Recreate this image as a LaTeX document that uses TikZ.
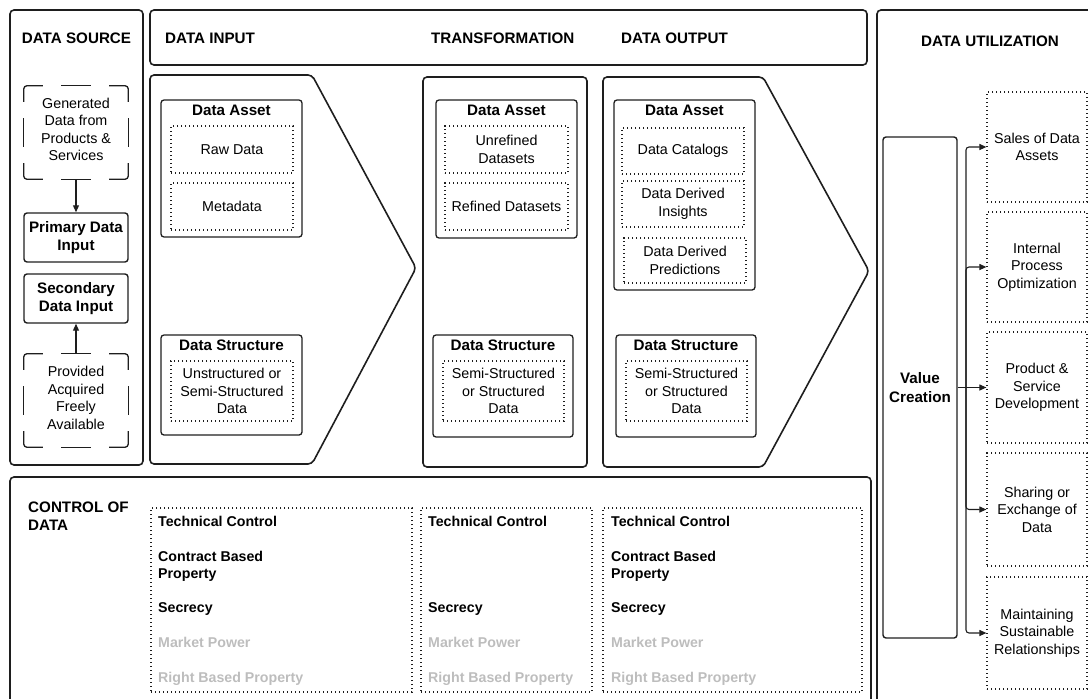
\documentclass[tikz,border=0pt]{standalone}
\usepackage{fontspec}
\setmainfont{Liberation Sans}
\usetikzlibrary{arrows.meta,calc}
\definecolor{ink}{HTML}{1E1E1E}
\definecolor{faded}{HTML}{BDBDBD}

% long-dash frame: rounded corner pieces plus one centred dash per side
\newcommand\srcframe[1]{%
  \draw[ink,line width=1.3pt,rounded corners=3pt]
    ($(#1.north west)+(0,16)$) -- (#1.north west) -- ($(#1.north west)+(19,0)$)
    ($(#1.north east)+(-19,0)$) -- (#1.north east) -- ($(#1.north east)+(0,16)$)
    ($(#1.south east)+(0,-16)$) -- (#1.south east) -- ($(#1.south east)+(-19,0)$)
    ($(#1.south west)+(19,0)$) -- (#1.south west) -- ($(#1.south west)+(0,-16)$);
  \draw[ink,line width=1.3pt]
    ($(#1.north)+(-15,0)$) -- ($(#1.north)+(15,0)$)
    ($(#1.south)+(-15,0)$) -- ($(#1.south)+(15,0)$)
    ($(#1.west)+(0,-14.5)$) -- ($(#1.west)+(0,14.5)$)
    ($(#1.east)+(0,-14.5)$) -- ($(#1.east)+(0,14.5)$);}

\tikzset{
  panel/.style={draw=ink, line width=1.6pt, rounded corners=4pt},
  group/.style={draw=ink, line width=1.3pt, rounded corners=3pt},
  item/.style={draw=ink, line width=1.2pt, dash pattern=on 1.3pt off 2.7pt,
    align=center, font=\fontsize{14.3}{17.5}\selectfont, inner sep=2pt},
  boxtitle/.style={font=\bfseries\fontsize{15.2}{18}\selectfont, inner sep=0pt},
  heading/.style={font=\bfseries\fontsize{15.2}{18}\selectfont, inner sep=0pt},
  solidbox/.style={draw=ink, line width=1.4pt, rounded corners=3pt, align=center,
    font=\bfseries\fontsize{15.2}{18.5}\selectfont, inner sep=2pt},
  srctext/.style={align=center, font=\fontsize{14.3}{17.5}\selectfont, inner sep=0pt},
  ctl/.style={anchor=west, font=\bfseries\fontsize{14.2}{17}\selectfont, inner sep=0pt, align=left},
  ctlfaded/.style={ctl, text=faded},
  arr/.style={draw=ink, line width=1.1pt, -{Triangle[length=7pt,width=6pt]}},
}

\begin{document}
\begin{tikzpicture}[x=1pt,y=-1pt]
\path[use as bounding box] (0,0) rectangle (1088,699);
\clip (0,0) rectangle (1088,699);

% ---------------- data source ----------------
\node[panel, minimum width=133, minimum height=455] (srcPanel) at (76.5,237.5) {};
\node[heading] (srcT) at (76.5,38) {DATA SOURCE};
\node[minimum width=104, minimum height=93, inner sep=0pt] (gen) at (76,132.5) {};
\srcframe{gen}
\node[srctext] (genText) at (76,129.5) {Generated\\Data from\\Products \&\\Services};
\node[solidbox, minimum width=104, minimum height=49] (prim) at (76,237.5) {Primary Data\\Input};
\node[solidbox, minimum width=104, minimum height=49] (sec) at (76,298.5) {Secondary\\Data Input};
\node[minimum width=104, minimum height=93, inner sep=0pt] (prov) at (76,400.5) {};
\srcframe{prov}
\node[srctext] (provText) at (76,398) {Provided\\Acquired\\Freely\\Available};
\draw[arr] (gen.south) -- (prim.north);
\draw[arr] (prov.north) -- (sec.south);

% ---------------- header bar ----------------
\node[panel, minimum width=717, minimum height=55] (hdr) at (508.5,37.5) {};
\node[heading, anchor=west] (inT) at (165,38) {DATA INPUT};
\node[heading, anchor=west] (trT) at (431,38) {TRANSFORMATION};
\node[heading, anchor=west] (outT) at (621,38) {DATA OUTPUT};

% ---------------- data input ----------------
\draw[panel] (150,75) -- (312,75) -- (416,268) -- (312,464) -- (150,464) -- cycle;
\node[group, minimum width=141, minimum height=137] (inAsset) at (231.5,168.5) {};
\node[boxtitle] (inAssetT) at (231.5,110) {Data Asset};
\node[item, minimum width=122, minimum height=47] (raw) at (232,149.5) {Raw Data};
\node[item, minimum width=122, minimum height=47] (meta) at (232,206.5) {Metadata};
\node[group, minimum width=141, minimum height=100] (inStruct) at (231.5,385) {};
\node[boxtitle] (inStructT) at (231.5,345) {Data Structure};
\node[item, minimum width=122, minimum height=60] (inStructI) at (232,391)
  {Unstructured or\\Semi-Structured\\Data};

% ---------------- transformation ----------------
\node[panel, minimum width=164, minimum height=390] (trBox) at (505,272) {};
\node[group, minimum width=141, minimum height=138] (trAsset) at (506.5,169) {};
\node[boxtitle] (trAssetT) at (506.5,110) {Data Asset};
\node[item, minimum width=123, minimum height=47] (unref) at (506.5,149.5) {Unrefined\\Datasets};
\node[item, minimum width=123, minimum height=47] (ref) at (506.5,206.5) {Refined Datasets};
\node[group, minimum width=140, minimum height=102] (trStruct) at (503,386) {};
\node[boxtitle] (trStructT) at (503,345) {Data Structure};
\node[item, minimum width=121, minimum height=60] (trStructI) at (503.5,391)
  {Semi-Structured\\or Structured\\Data};

% ---------------- data output ----------------
\draw[panel] (603,77) -- (763,77) -- (869,271) -- (763,467) -- (603,467) -- cycle;
\node[group, minimum width=141, minimum height=190] (outAsset) at (684.5,195) {};
\node[boxtitle] (outAssetT) at (684.5,110) {Data Asset};
\node[item, minimum width=122, minimum height=46] (cat) at (683,151) {Data Catalogs};
\node[item, minimum width=122, minimum height=46] (ins) at (683,204) {Data Derived\\Insights};
\node[item, minimum width=122, minimum height=45] (pred) at (685,260.5) {Data Derived\\Predictions};
\node[group, minimum width=140, minimum height=102] (outStruct) at (686,386) {};
\node[boxtitle] (outStructT) at (686,345) {Data Structure};
\node[item, minimum width=121, minimum height=60] (outStructI) at (686.5,391)
  {Semi-Structured\\or Structured\\Data};

% ---------------- data utilization ----------------
\node[panel, minimum width=223, minimum height=710] (utilPanel) at (988.5,365) {};
\node[heading] (utilT) at (990,41) {DATA UTILIZATION};
\node[solidbox, minimum width=74, minimum height=501] (vc) at (920,387.5) {Value\\Creation};
\node[item, minimum width=100, minimum height=110] (p1) at (1037,147) {Sales of Data\\Assets};
\node[item, minimum width=100, minimum height=110] (p2) at (1037,267) {Internal\\Process\\Optimization};
\node[item, minimum width=100, minimum height=111] (p3) at (1037,387.5) {Product \&\\Service\\Development};
\node[item, minimum width=100, minimum height=113] (p4) at (1037,509.5) {Sharing or\\Exchange of\\Data};
\node[item, minimum width=100, minimum height=112] (p5) at (1037,633) {Maintaining\\Sustainable\\Relationships};
\coordinate (bus) at (966,387.5);
\draw[ink, line width=1.1pt] (vc.east) -- (bus);
\draw[arr] (bus) -- (p3.west);
\draw[arr, rounded corners=3pt] (bus) |- (p1.west);
\draw[arr, rounded corners=3pt] (bus) |- (p2.west);
\draw[arr, rounded corners=3pt] (bus) |- (p4.west);
\draw[arr, rounded corners=3pt] (bus) |- (p5.west);

% ---------------- control of data ----------------
\node[panel, minimum width=861, minimum height=243] (ctlPanel) at (440.5,598.5) {};
\node[heading, anchor=west, align=left] (ctlT) at (28,516) {CONTROL OF\\DATA};
\node[item, minimum width=261, minimum height=184] (c1) at (281.5,600) {};
\node[item, minimum width=171, minimum height=184] (c2) at (506.5,600) {};
\node[item, minimum width=259, minimum height=184] (c3) at (732.5,600) {};

\node[ctl] (c1a) at (158,521) {Technical Control};
\node[ctl] (c1b) at (158,566) {Contract Based\\Property};
\node[ctl] (c1c) at (158,609) {Secrecy};
\node[ctlfaded] (c1d) at (158,642) {Market Power};
\node[ctlfaded] (c1e) at (158,679) {Right Based Property};

\node[ctl] (c2a) at (428,521) {Technical Control};
\node[ctl] (c2c) at (428,609) {Secrecy};
\node[ctlfaded] (c2d) at (428,642) {Market Power};
\node[ctlfaded] (c2e) at (428,679) {Right Based Property};

\node[ctl] (c3a) at (611,521) {Technical Control};
\node[ctl] (c3b) at (611,566) {Contract Based\\Property};
\node[ctl] (c3c) at (611,609) {Secrecy};
\node[ctlfaded] (c3d) at (611,642) {Market Power};
\node[ctlfaded] (c3e) at (611,679) {Right Based Property};
\end{tikzpicture}
\end{document}
